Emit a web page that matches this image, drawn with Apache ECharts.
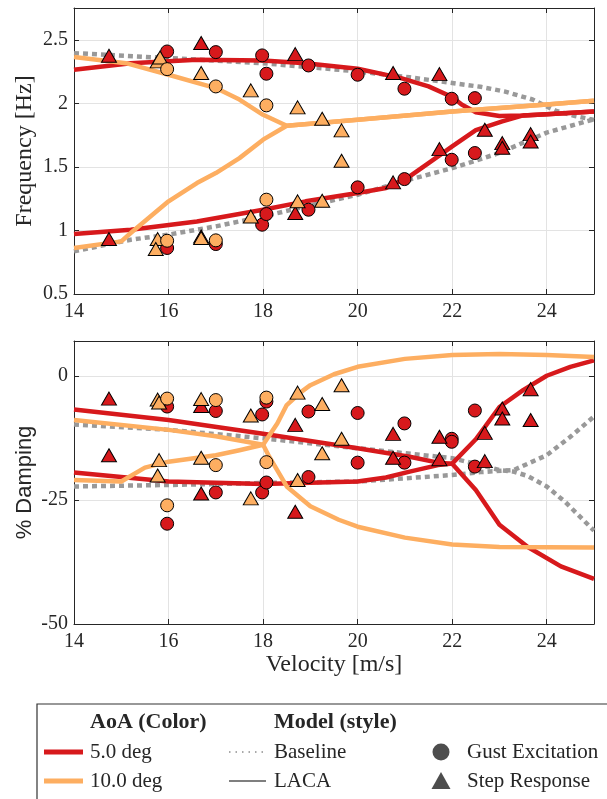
<!DOCTYPE html>
<html>
<head>
<meta charset="utf-8">
<script src="https://cdn.jsdelivr.net/npm/echarts@6/dist/echarts.min.js"></script>
<style>
html,body{margin:0;padding:0;background:#fff;}
#chart{width:607px;height:799px;}
</style>
</head>
<body>
<div id="chart"></div>
<script>
// ---------- axis ranges / ticks ----------
const xTicks = [14, 16, 18, 20, 22, 24];
const freqTicks = [0.5, 1, 1.5, 2, 2.5];
const dampTicks = [-50, -25, 0];

// ---------- Frequency [Hz] : model curves [velocity, value] ----------
const freqBaselineHi = [[14,2.395],[16,2.356],[18,2.316],[20,2.251],[21.1,2.205],[22,2.16],[22.6,2.13],[23.1,2.094],[23.7,2.03],[24.2,1.94],[24.6,1.90],[25,1.87]];
const freqBaselineLo = [[14,0.836],[15.2,0.927],[16,0.967],[17,1.032],[18,1.11],[18.9,1.189],[20,1.281],[21,1.39],[22,1.49],[23,1.61],[24,1.77],[25,1.875]];
const freqLaca5Hi = [[14,2.264],[15.2,2.316],[16.6,2.343],[18,2.337],[18.9,2.316],[20,2.272],[20.9,2.2],[21.5,2.133],[22,2.05],[22.2,1.99],[22.5,1.93],[23,1.90],[23.5,1.905],[24,1.915],[25,1.936]];
const freqLaca5Lo = [[14,0.972],[15.2,1.006],[16.6,1.071],[18,1.163],[18.9,1.229],[20,1.294],[20.6,1.334],[21.1,1.425],[21.5,1.53],[22,1.661],[22.5,1.79],[23.06,1.858],[23.5,1.905],[24,1.915],[25,1.936]];
const freqLaca10Hi = [[14,2.364],[15.1,2.316],[16,2.225],[17,2.12],[17.5,2.03],[18,1.91],[18.5,1.824],[20,1.871],[22,1.936],[24,1.99],[25,2.02]];
const freqLaca10Lo = [[14,0.862],[15,0.914],[15.2,0.98],[16,1.229],[16.6,1.373],[17,1.451],[17.5,1.569],[18,1.714],[18.5,1.824],[20,1.871],[22,1.936],[24,1.99],[25,2.02]];

// ---------- Frequency : measured points ----------
const freqGust5 = [[15.97,2.408],[17.0,2.403],[17.98,2.377],[18.07,2.233],[18.96,2.298],[20.0,2.225],[20.99,2.115],[21.99,2.036],[22.48,2.041],[15.97,0.862],[17.0,0.893],[17.98,1.045],[18.07,1.129],[18.96,1.163],[20.0,1.339],[20.99,1.404],[21.99,1.556],[22.48,1.609]];
const freqStep5 = [[14.74,2.374],[16.69,2.474],[18.68,2.387],[20.75,2.238],[21.73,2.23],[14.74,0.932],[16.69,0.953],[18.68,1.137],[20.75,1.378],[21.73,1.64],[22.69,1.792],[23.06,1.687],[23.06,1.65],[23.66,1.758],[23.66,1.70]];
const freqGust10 = [[15.97,2.269],[17.0,2.133],[18.07,1.984],[15.97,0.919],[17.0,0.922],[18.07,1.242]];
const freqStep10 = [[15.77,2.33],[15.82,2.36],[16.69,2.238],[17.74,2.102],[18.73,1.968],[19.25,1.879],[19.66,1.787],[19.66,1.548],[15.77,0.932],[15.73,0.854],[16.69,0.94],[17.74,1.11],[18.73,1.229],[19.25,1.234]];

// ---------- % Damping : model curves ----------
const dampBaselineA = [[14,-9.8],[16,-10.9],[18,-12.6],[20,-14.6],[22,-16.6],[22.6,-18.0],[23,-19.0],[23.3,-19.3],[23.6,-20.2],[24.0,-22.3],[24.4,-25.5],[25,-31.2]];
const dampBaselineB = [[14,-22.3],[16,-22.0],[18,-21.6],[20,-21.3],[21.1,-20.6],[22,-20.0],[22.6,-19.4],[23.3,-19.0],[24.0,-16.0],[24.5,-12.3],[25,-8.2]];
const dampLaca5A = [[14,-6.8],[16,-8.9],[18,-11.7],[20,-14.6],[21.1,-16.3],[21.7,-17.5],[22,-17.7],[22.5,-23],[23,-30],[23.6,-34.5],[24.3,-38.4],[25,-40.9]];
const dampLaca5B = [[14,-19.5],[16,-21.3],[18,-21.8],[20,-21.3],[20.6,-20.5],[21.1,-19.3],[21.7,-18.0],[22,-17.7],[22.5,-12.8],[23,-6.3],[23.5,-2.9],[24,0],[24.5,1.8],[25,3.1]];
const dampLaca10A = [[14,-8.9],[16,-10.9],[17,-12.2],[18,-13.9],[18.3,-9.6],[18.5,-5.9],[18.8,-3.3],[19,-1.9],[19.5,0.3],[20,1.8],[21,3.4],[22,4.2],[23,4.4],[24,4.2],[25,3.8]];
const dampLaca10B = [[14,-21],[15,-21.3],[15.5,-18.5],[16,-17.3],[17,-16],[17.5,-15],[18,-13.9],[18.13,-16.3],[18.5,-22.3],[19,-26.3],[19.6,-29],[20,-30.4],[21,-32.6],[22,-34],[23,-34.5],[25,-34.6]];

// ---------- % Damping : measured points ----------
const dampGust5 = [[15.97,-6.2],[15.97,-29.8],[17.0,-7.1],[17.0,-23.5],[17.98,-7.8],[17.98,-23.5],[18.07,-5.2],[18.07,-21.5],[18.96,-7.2],[18.96,-20.4],[20.0,-7.5],[20.0,-17.5],[20.99,-9.6],[20.99,-17.5],[21.99,-12.7],[21.99,-13.3],[22.48,-7.0],[22.48,-18.3]];
const dampStep5 = [[14.74,-4.6],[14.74,-16.0],[16.69,-6.1],[16.69,-23.7],[18.68,-9.9],[18.68,-27.4],[20.75,-11.7],[20.75,-16.5],[21.73,-12.3],[21.73,-16.8],[22.69,-11.5],[22.69,-17.2],[23.06,-6.6],[23.06,-8.6],[23.66,-2.7],[23.66,-8.9]];
const dampGust10 = [[15.97,-4.6],[15.97,-26.1],[17.0,-4.9],[17.0,-18.0],[18.07,-4.4],[18.07,-17.4]];
const dampStep10 = [[15.77,-4.8],[15.8,-5.4],[15.8,-17.0],[15.77,-20.1],[16.69,-4.7],[16.69,-16.5],[17.74,-8.0],[17.74,-24.7],[18.73,-3.4],[18.73,-21.0],[19.25,-5.7],[19.25,-15.6],[19.66,-1.9],[19.66,-12.7]];

// ---------- legend text ----------
const legendHeaders = ['AoA (Color)', 'Model (style)'];
const aoaLabels = ['5.0 deg', '10.0 deg'];
const modelLabels = ['Baseline', 'LACA'];
const markerLabels = ['Gust Excitation', 'Step Response'];

// ---------- styling ----------
const RED = '#d7191c', ORANGE = '#fdae61', GREY = '#999999', INK = '#262626';
const SERIF = '"Liberation Serif", "DejaVu Serif", serif';
const SANS = '"Liberation Sans", "DejaVu Sans", sans-serif';

const chart = echarts.init(document.getElementById('chart'), null, {renderer: 'canvas'});

function xAxes(gridIndex, withName) {
  return [{
    type: 'value', gridIndex, min: 14, max: 25, interval: 2, position: 'bottom',
    axisLine: {show: true, onZero: false, lineStyle: {color: INK, width: 1}},
    axisTick: {show: true, inside: true, length: 5, lineStyle: {color: INK}},
    axisLabel: {show: true, margin: 8, color: INK, fontFamily: SERIF, fontSize: 20, showMaxLabel: false,
      formatter: v => xTicks.includes(v) ? String(v) : ''},
    splitLine: {show: true, lineStyle: {color: '#e3e3e3', width: 1}},
    name: withName ? 'Velocity [m/s]' : '', nameLocation: 'middle', nameGap: 29,
    nameTextStyle: {color: INK, fontFamily: SERIF, fontSize: 24}
  }, {
    type: 'value', gridIndex, min: 14, max: 25, interval: 2, position: 'top',
    axisLine: {show: true, onZero: false, lineStyle: {color: INK, width: 1}},
    axisTick: {show: true, inside: true, length: 5, lineStyle: {color: INK}},
    axisLabel: {show: false}, splitLine: {show: false}
  }];
}
function yAxes(gridIndex, min, max, interval, ticks, name, nameFont, nameSize, gap) {
  return [{
    type: 'value', gridIndex, min, max, interval, position: 'left',
    axisLine: {show: true, onZero: false, lineStyle: {color: INK, width: 1}},
    axisTick: {show: true, inside: true, length: 5, lineStyle: {color: INK}},
    axisLabel: {show: true, margin: 6, color: INK, fontFamily: SERIF, fontSize: 20, showMaxLabel: false,
      formatter: v => ticks.includes(v) ? String(v) : ''},
    splitLine: {show: true, lineStyle: {color: '#e3e3e3', width: 1}},
    name, nameLocation: 'middle', nameGap: gap, nameMoveOverlap: false,
    nameTextStyle: {color: INK, fontFamily: nameFont, fontSize: nameSize}
  }, {
    type: 'value', gridIndex, min, max, interval, position: 'right',
    axisLine: {show: true, onZero: false, lineStyle: {color: INK, width: 1}},
    axisTick: {show: true, inside: true, length: 5, lineStyle: {color: INK}},
    axisLabel: {show: false}, splitLine: {show: false}
  }];
}

function line(idx, data, color, dotted) {
  return {
    type: 'line', xAxisIndex: idx * 2, yAxisIndex: idx * 2, data, symbol: 'none', silent: true,
    lineStyle: dotted ? {color: GREY, width: 4.5, type: [5, 4], cap: 'butt'} : {color, width: 4.5, cap: 'butt', join: 'round'},
    z: 2
  };
}
function pts(idx, data, color, tri) {
  return {
    type: 'scatter', xAxisIndex: idx * 2, yAxisIndex: idx * 2, data, silent: true,
    symbol: tri ? 'triangle' : 'circle', symbolSize: tri ? [15, 13] : 13,
    itemStyle: {color, borderColor: '#000', borderWidth: 1, opacity: 1},
    z: 3
  };
}

const series = [
  line(0, freqBaselineHi, GREY, true), line(0, freqBaselineLo, GREY, true),
  line(0, freqLaca5Hi, RED), line(0, freqLaca5Lo, RED),
  line(0, freqLaca10Hi, ORANGE), line(0, freqLaca10Lo, ORANGE),
  pts(0, freqGust5, RED, false), pts(0, freqStep5, RED, true),
  pts(0, freqStep10, ORANGE, true), pts(0, freqGust10, ORANGE, false),

  line(1, dampBaselineA, GREY, true), line(1, dampBaselineB, GREY, true),
  line(1, dampLaca5A, RED), line(1, dampLaca5B, RED),
  line(1, dampLaca10A, ORANGE), line(1, dampLaca10B, ORANGE),
  pts(1, dampGust5, RED, false), pts(1, dampStep5, RED, true),
  pts(1, dampStep10, ORANGE, true), pts(1, dampGust10, ORANGE, false)
];

// legend drawn as graphic elements
const LX = {line0: 44, line1: 83, aoaText: 90, modelLine0: 229, modelLine1: 266, modelText: 274, mark: 441, markText: 467};
const LY = {head: 722, r1: 752, r2: 781};
const txt = (t, x, y, bold) => ({type: 'text', x, y, silent: true,
  style: {text: t, fill: INK, font: (bold ? 'bold 22px ' : '21px ') + SERIF, verticalAlign: 'middle', align: 'left'}});
const graphic = [
  {type: 'rect', shape: {x: 37, y: 704, width: 620, height: 140}, style: {fill: 'none', stroke: '#333', lineWidth: 1.2}, silent: true},
  txt(legendHeaders[0], LX.aoaText, LY.head, true),
  txt(legendHeaders[1], LX.modelText, LY.head, true),
  {type: 'line', shape: {x1: LX.line0, y1: LY.r1, x2: LX.line1, y2: LY.r1}, style: {stroke: RED, lineWidth: 5}, silent: true},
  {type: 'line', shape: {x1: LX.line0, y1: LY.r2, x2: LX.line1, y2: LY.r2}, style: {stroke: ORANGE, lineWidth: 5}, silent: true},
  txt(aoaLabels[0], LX.aoaText, LY.r1),
  txt(aoaLabels[1], LX.aoaText, LY.r2),
  {type: 'line', shape: {x1: LX.modelLine0, y1: LY.r1, x2: LX.modelLine1, y2: LY.r1}, style: {stroke: '#555', lineWidth: 1, lineDash: [1.5, 5]}, silent: true},
  {type: 'line', shape: {x1: LX.modelLine0, y1: LY.r2, x2: LX.modelLine1, y2: LY.r2}, style: {stroke: '#555', lineWidth: 1.3}, silent: true},
  txt(modelLabels[0], LX.modelText, LY.r1),
  txt(modelLabels[1], LX.modelText, LY.r2),
  {type: 'circle', shape: {cx: LX.mark, cy: LY.r1, r: 8.5}, style: {fill: '#4d4d4d'}, silent: true},
  {type: 'polygon', shape: {points: [[LX.mark - 9.5, LY.r2 + 8], [LX.mark + 9.5, LY.r2 + 8], [LX.mark, LY.r2 - 9]]}, style: {fill: '#4d4d4d'}, silent: true},
  txt(markerLabels[0], LX.markText, LY.r1),
  txt(markerLabels[1], LX.markText, LY.r2)
];

chart.setOption({
  animation: false,
  backgroundColor: '#fff',
  grid: [
    {left: 74, top: 8, width: 520, height: 286},
    {left: 74, top: 341, width: 520, height: 283}
  ],
  xAxis: [...xAxes(0, false), ...xAxes(1, true)],
  yAxis: [...yAxes(0, 0.5, 2.75, 0.5, freqTicks, 'Frequency [Hz]', SERIF, 24, 37),
          ...yAxes(1, -50, 7, 25, dampTicks, '% Damping', SANS, 22, 38)],
  series,
  graphic
});
</script>
</body>
</html>
